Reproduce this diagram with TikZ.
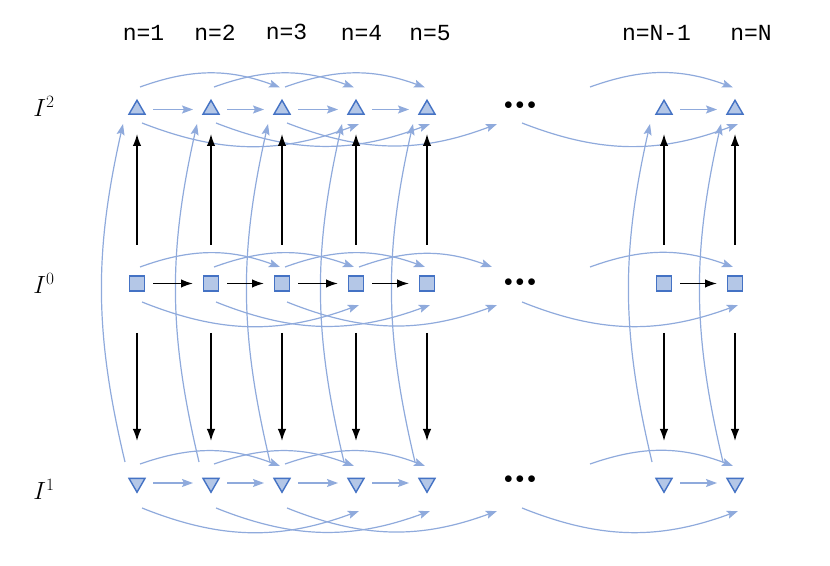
\documentclass[tikz,border=0pt]{standalone}
\usepackage{fontspec}
\newfontfamily\monof{Liberation Mono}
\usetikzlibrary{calc,shapes.geometric,arrows.meta}
\definecolor{lb}{HTML}{8FAADC}
\definecolor{nfill}{HTML}{B4C7E7}
\definecolor{nedge}{HTML}{4472C4}
\begin{document}
\begin{tikzpicture}[x=1pt,y=1pt,
  upn/.style={regular polygon, regular polygon sides=3, minimum size=18.5pt, inner sep=0pt, draw=nedge, fill=nfill, line width=1.4pt},
  downn/.style={upn, shape border rotate=180},
  sqn/.style={rectangle, minimum size=15pt, inner sep=0pt, draw=nedge, fill=nfill, line width=1.4pt},
  blk/.style={draw=black, line width=1.5pt, -{Latex[length=12pt,width=8.5pt]}},
  blu/.style={draw=lb, line width=1.2pt, -{Stealth[length=11pt,width=8pt,inset=2pt]}},
  lab/.style={font=\monof\fontsize{23}{26}\selectfont, inner sep=0pt},
  rowlab/.style={font=\fontsize{25}{28}\selectfont, inner sep=0pt},
  dotsn/.style={font=\fontsize{16}{18}\selectfont, inner sep=0pt}
  ]
\useasboundingbox (0,0) rectangle (830,565);
% column labels
\node[lab] (l1) at (143.5,532) {n=1};
\node[lab] (l2) at (215,532) {n=2};
\node[lab] (l3) at (286.5,533) {n=3};
\node[lab] (l4) at (361.5,532) {n=4};
\node[lab] (l5) at (430,532) {n=5};
\node[lab] (lA) at (656.5,532) {n=N-1};
\node[lab] (lB) at (751,532) {n=N};
% row labels
\node[rowlab] (r2) at (44,459) {$I^{2}$};
\node[rowlab] (r0) at (44,282) {$I^{0}$};
\node[rowlab] (r1) at (44,76) {$I^{1}$};
% nodes
\foreach \c/\x in {1/137,2/211,3/282,4/356,5/427,A/664,B/735} {
  \node[upn] (t\c) at (\x,455.5) {};
  \node[sqn] (s\c) at (\x,281.5) {};
  \node[downn] (b\c) at (\x,82) {};
}
% virtual columns
\foreach \r/\y in {t/455.5,s/281.5,b/82} {
  \coordinate (\r 6) at (494,\y);
  \coordinate (\r D) at (517,\y);
  \coordinate (\r Z) at (587,\y);
}
% dots
\node[dotsn] (dt) at (520,459) {$\bullet$\hspace{3pt}$\bullet$\hspace{3pt}$\bullet$};
\node[dotsn] (ds) at (520,282) {$\bullet$\hspace{3pt}$\bullet$\hspace{3pt}$\bullet$};
\node[dotsn] (db) at (520,85) {$\bullet$\hspace{3pt}$\bullet$\hspace{3pt}$\bullet$};
% arcs
\foreach \r/\ay/\by/\cy/\dy in {t/22.5/22/-13.5/-14.5, s/16.5/16.5/-18.5/-21.5, b/19/17/-25/-28} {
  \foreach \a/\b in {1/3,2/4,3/5,Z/B}
    \draw[blu] ($(\r\a)+(3,\ay)$) to[bend left=20] ($(\r\b)+(-2,\by)$);
  \foreach \a/\b in {1/4,2/5,3/6,D/B}
    \draw[blu] ($(\r\a)+(5,\cy)$) to[bend right=21] ($(\r\b)+(3,\dy)$);
}
\draw[blu] ($(s4)+(3,16.5)$) to[bend left=20] ($(s6)+(-2,16.5)$);
% long vertical curves
\foreach \c in {1,2,3,4,5,A,B}
  \draw[blu] ($(b\c)+(-12,21)$) to[bend left=13] ($(t\c)+(-14,-14.5)$);
% straight arrows
\foreach \a/\b in {1/2,2/3,3/4,4/5,A/B} {
  \draw[blu] ($(t\a)+(16,0)$) -- ($(t\b)+(-18,0)$);
  \draw[blk] ($(s\a)+(16,0)$) -- ($(s\b)+(-18,0)$);
  \draw[blu] ($(b\a)+(16,0)$) -- ($(b\b)+(-18,0)$);
}
% vertical black arrows
\foreach \c in {1,2,3,4,5,A,B} {
  \draw[blk] ($(s\c)+(0,38.5)$) -- ($(t\c)+(0,-24.5)$);
  \draw[blk] ($(s\c)+(0,-49.5)$) -- ($(b\c)+(0,42)$);
}
\end{tikzpicture}
\end{document}
